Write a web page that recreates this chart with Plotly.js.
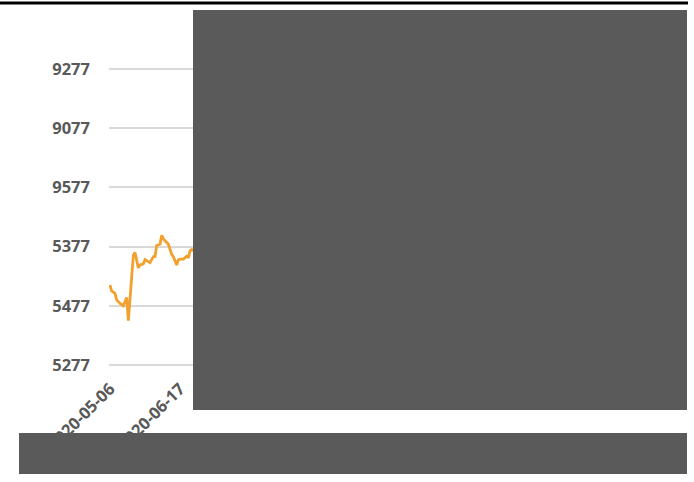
<!DOCTYPE html>
<html>
<head>
<meta charset="utf-8">
<script src="https://cdn.plot.ly/plotly-3.0.1.min.js"></script>
<style>html,body{margin:0;padding:0;background:#fff;}#chart{width:694px;height:482px;}</style>
</head>
<body>
<div id="chart"></div>
<script>
// ---- data ----
var dates = ["2020-05-06","2020-05-07","2020-05-09","2020-05-10","2020-05-12","2020-05-14","2020-05-16","2020-05-17",
  "2020-05-20","2020-05-21","2020-05-23","2020-05-24","2020-05-26","2020-05-27","2020-05-30","2020-06-01",
  "2020-06-02","2020-06-03","2020-06-05","2020-06-06","2020-06-07","2020-06-09","2020-06-10","2020-06-12",
  "2020-06-13","2020-06-15","2020-06-16","2020-06-18","2020-06-19","2020-06-21","2020-06-22","2020-06-23",
  "2020-06-24","2020-06-25"];
var values = [5412,5402,5398,5387,5381,5377,5391,5352,
  5462,5467,5441,5446,5448,5455,5450,5460,
  5460,5479,5481,5496,5490,5485,5481,5464,
  5460,5446,5455,5456,5456,5461,5458,5470,
  5472,5470];
var xTickVals = ["2020-05-06","2020-06-17"];
var yTickVals = [5277,5377,5477,5577,5677,5777];
var yTickText = ["5277","5477","5377","9577","9077","9277"];

// ---- layout geometry ----
var W = 694, H = 482, L = 109, R = 7, T = 63, B = 111;
function px(x){ return (x - L) / (W - L - R); }
function py(y){ return (H - B - y) / (H - T - B); }

var tickFont = {family: "Open Sans, sans-serif", size: 16.5, color: "#595959", weight: "bold"};

var trace = {
  x: dates, y: values, type: "scatter", mode: "lines",
  line: {color: "#f2a02e", width: 2.8}, hoverinfo: "skip"
};

var layout = {
  width: W, height: H,
  margin: {l: L, r: R, t: T, b: B, pad: 0},
  paper_bgcolor: "#ffffff", plot_bgcolor: "#ffffff",
  showlegend: false,
  xaxis: {
    type: "date",
    range: ["2020-05-05 09:36", "2021-04-17"],
    tickvals: xTickVals,
    tickformat: "%Y-%m-%d", tickangle: -45,
    showgrid: false, zeroline: false, showline: false,
    ticks: "", ticklabelstandoff: 4,
    tickfont: tickFont
  },
  yaxis: {
    range: [5266.9, 5787.1],
    tickvals: yTickVals, ticktext: yTickText,
    showgrid: true, gridcolor: "#d9d9d9", gridwidth: 2,
    zeroline: false, showline: false, ticks: "",
    ticklabelstandoff: 18,
    tickfont: tickFont
  },
  shapes: [
    {type: "line", xref: "paper", yref: "paper", x0: px(0), x1: px(688), y0: py(3), y1: py(3),
     line: {color: "#000000", width: 3}, layer: "above"},
    {type: "rect", xref: "paper", yref: "paper", x0: px(193), x1: px(687), y0: py(10), y1: py(410),
     fillcolor: "#5a5a5a", line: {width: 0}, layer: "above"},
    {type: "rect", xref: "paper", yref: "paper", x0: px(19), x1: px(687), y0: py(433), y1: py(474),
     fillcolor: "#5a5a5a", line: {width: 0}, layer: "above"}
  ]
};

Plotly.newPlot("chart", [trace], layout, {displayModeBar: false, staticPlot: true});
</script>
</body>
</html>
